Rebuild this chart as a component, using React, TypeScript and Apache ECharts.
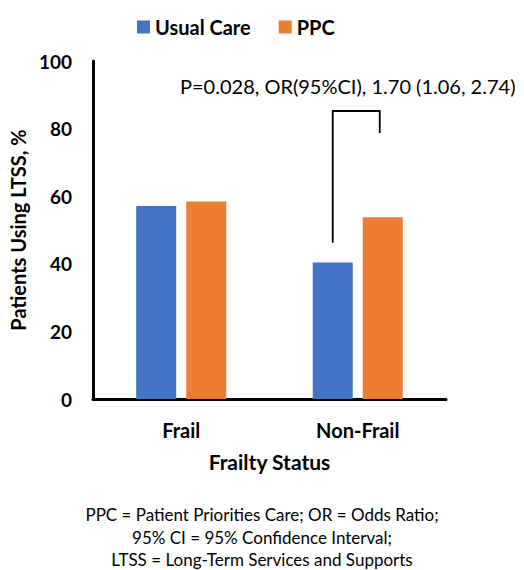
import React, { useEffect, useRef } from "react";
import * as echarts from "echarts";

const categories = ["Frail", "Non-Frail"];
const usualCare = [57.1, 40.4];
const ppc = [58.4, 53.8];
const seriesNames = ["Usual Care", "PPC"];
const yTicks = { min: 0, max: 100, interval: 20 };
// bracket: category index, left top/bottom, right bottom (in % units)
const bracket = [[1, 85.2, 46.2, 78.7]];
const annotation = "P=0.028, OR(95%CI), 1.70 (1.06, 2.74)";
const footnotes = [
  "PPC = Patient Priorities Care; OR = Odds Ratio;",
  "95% CI = 95% Confidence Interval;",
  "LTSS = Long-Term Services and Supports",
];

const FONT = "Lato, 'Open Sans', sans-serif";

export default function App() {
  const ref = useRef<HTMLDivElement>(null);
  useEffect(() => {
    if (!ref.current) return;
    const chart = echarts.init(ref.current, undefined, { renderer: "svg" });
    chart.setOption({
      animation: false,
      textStyle: { fontFamily: FONT },
      legend: {
        data: seriesNames,
        left: 132,
        top: 12,
        itemWidth: 13,
        itemHeight: 13,
        itemGap: 28,
        icon: "rect",
        textStyle: { fontFamily: FONT, fontWeight: "bold", fontSize: 20, color: "#000" },
      },
      grid: { left: 89, right: 78, top: 61, bottom: 171, containLabel: false },
      xAxis: {
        type: "category",
        data: categories,
        name: "Frailty Status",
        nameLocation: "middle",
        nameGap: 52,
        nameTextStyle: { fontFamily: FONT, fontWeight: "bold", fontSize: 21, color: "#000" },
        axisLine: { lineStyle: { color: "#000", width: 3 } },
        axisTick: { show: false },
        axisLabel: { fontFamily: FONT, fontWeight: "bold", fontSize: 20, color: "#000", margin: 21 },
      },
      yAxis: {
        type: "value",
        min: yTicks.min,
        max: yTicks.max,
        interval: yTicks.interval,
        name: "Patients Using LTSS, %",
        nameLocation: "middle",
        nameGap: 59,
        nameTextStyle: { fontFamily: FONT, fontWeight: "bold", fontSize: 20, color: "#000" },
        axisLine: { show: true, lineStyle: { color: "#000", width: 3 } },
        axisTick: { show: false },
        splitLine: { show: false },
        axisLabel: { fontFamily: FONT, fontWeight: "bold", fontSize: 19, color: "#000", margin: 21 },
      },
      series: [
        {
          name: seriesNames[0],
          type: "bar",
          data: usualCare,
          barWidth: 40,
          barGap: "25%",
          itemStyle: { color: "#4472C4" },
        },
        {
          name: seriesNames[1],
          type: "bar",
          data: ppc,
          barWidth: 40,
          itemStyle: { color: "#ED7D31" },
        },
        {
          type: "custom",
          data: bracket,
          silent: true,
          renderItem: (params: any, api: any) => {
            const ci = api.value(0);
            const top = api.coord([ci, api.value(1)]);
            const lb = api.coord([ci, api.value(2)]);
            const rb = api.coord([ci, api.value(3)]);
            const xl = top[0] - 25;
            const xr = top[0] + 22;
            return {
              type: "polyline",
              shape: {
                points: [
                  [xl, lb[1]],
                  [xl, top[1]],
                  [xr, top[1]],
                  [xr, rb[1]],
                ],
              },
              style: { stroke: "#000", lineWidth: 1.8, fill: "none" },
            };
          },
        },
      ],
      graphic: [
        {
          type: "text",
          left: 180,
          top: 76,
          style: { text: annotation, fontFamily: FONT, fontSize: 20, fill: "#000" },
        },
        ...footnotes.map((t, i) => ({
          type: "text",
          left: "center",
          top: 506 + i * 22.5,
          style: { text: t, fontFamily: FONT, fontSize: 17, fill: "#000" },
        })),
      ],
    });
    return () => chart.dispose();
  }, []);
  return (
    <div
      ref={ref}
      style={{ position: "absolute", left: 0, top: 0, width: 524, height: 570 }}
    />
  );
}
